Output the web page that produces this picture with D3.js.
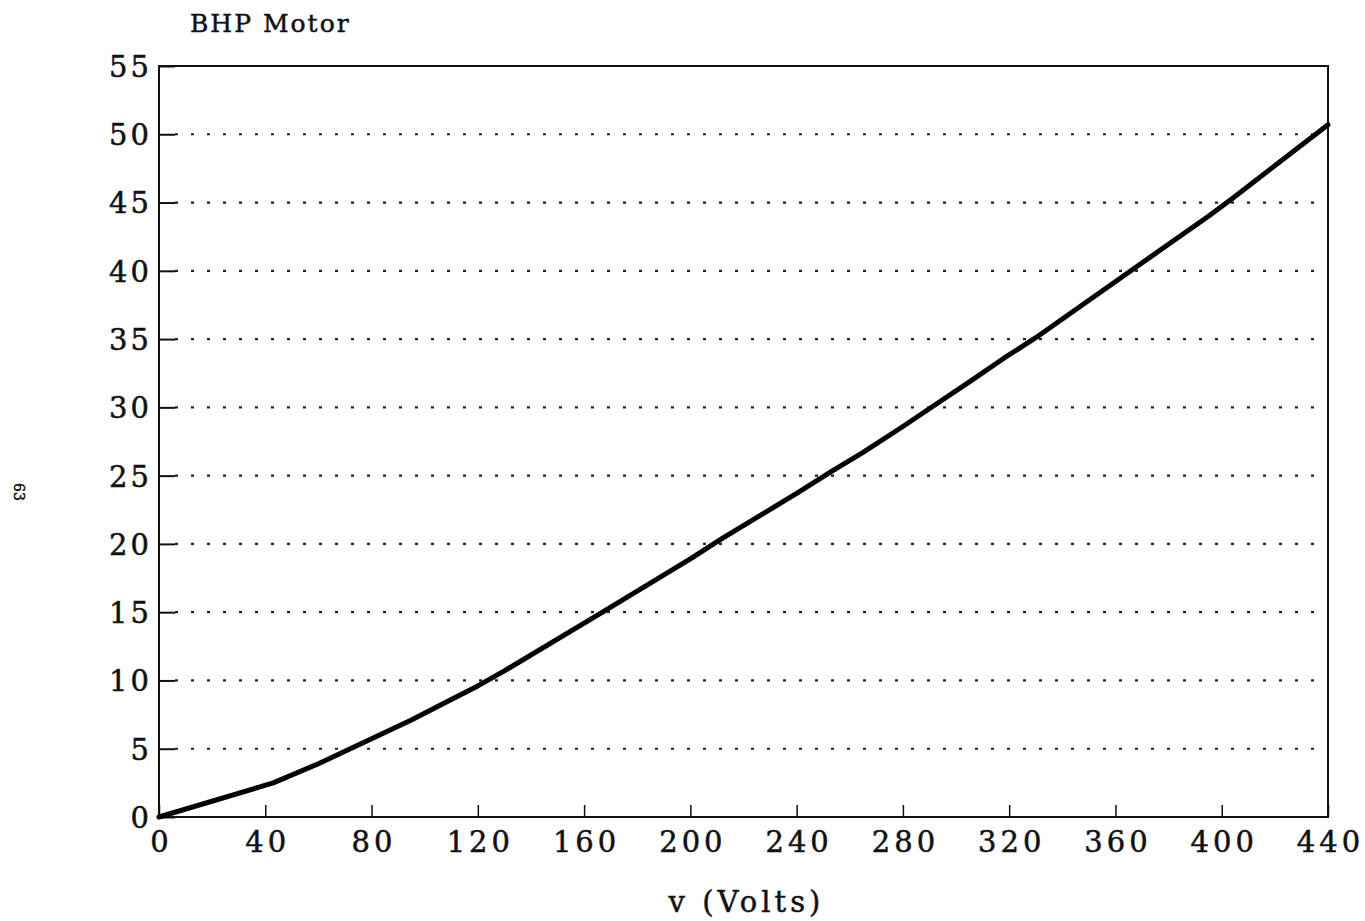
<!DOCTYPE html>
<html>
<head>
<meta charset="utf-8">
<script src="https://cdn.jsdelivr.net/npm/d3@7"></script>
<style>
  html, body { margin: 0; padding: 0; background: #fff; }
  svg { display: block; }
  text { font-family: "DejaVu Serif", "Liberation Serif", serif; fill: #111; stroke: #111; stroke-width: 0.5px; }
</style>
</head>
<body>
<svg id="chart" width="1365" height="921"></svg>
<script>
// Motor brake horsepower against supply voltage
const volts = [0, 43, 60, 83, 95, 110, 120, 130, 166, 200, 212, 240, 253, 265, 280, 293, 306, 318, 330, 365, 395, 404, 440];
const bhp   = [0, 2.5, 3.9, 6.0, 7.1, 8.6, 9.6, 10.7, 14.9, 18.9, 20.4, 23.7, 25.3, 26.7, 28.6, 30.3, 32.0, 33.6, 35.1, 39.9, 44.0, 45.3, 50.7];

const xTicks = [0, 40, 80, 120, 160, 200, 240, 280, 320, 360, 400, 440];
const yTicks = [0, 5, 10, 15, 20, 25, 30, 35, 40, 45, 50, 55];

const titleText = "BHP Motor";
const xLabel = "v (Volts)";
const pageNumber = "63";

const svg = d3.select("#chart");
const plotLeft = 159, plotRight = 1328, plotTop = 66, plotBottom = 817;

const x = d3.scaleLinear().domain([0, 440]).range([plotLeft, plotRight]);
const y = d3.scaleLinear().domain([0, 55]).range([plotBottom, plotTop]);

// dotted horizontal grid
svg.append("g")
  .selectAll("line")
  .data(yTicks.filter(d => d > 0 && d < 55))
  .join("line")
  .attr("x1", plotLeft + 16).attr("x2", plotRight)
  .attr("y1", d => y(d)).attr("y2", d => y(d))
  .attr("stroke", "#222")
  .attr("stroke-width", 2.2)
  .attr("stroke-dasharray", "3,13");

// left axis with short inward ticks
const yAxis = d3.axisLeft(y).tickValues(yTicks).tickSize(-16).tickPadding(10).tickFormat(d3.format("d"));
const gy = svg.append("g").attr("transform", `translate(${plotLeft},0)`).call(yAxis);
gy.select(".domain").remove();
gy.selectAll(".tick line").attr("stroke", "#111").attr("stroke-width", 2);
gy.selectAll(".tick text")
  .attr("font-size", 29)
  .attr("letter-spacing", 3)
  .attr("x", -7)
  .attr("dy", "0.36em");

// bottom axis with short inward ticks
const xAxis = d3.axisBottom(x).tickValues(xTicks).tickSize(-12).tickPadding(14).tickFormat(d3.format("d"));
const gx = svg.append("g").attr("transform", `translate(0,${plotBottom})`).call(xAxis);
gx.select(".domain").remove();
gx.selectAll(".tick line").attr("stroke", "#111").attr("stroke-width", 1.5);
gx.selectAll(".tick text")
  .attr("font-size", 29)
  .attr("letter-spacing", 4)
  .attr("dx", 2)
  .attr("dy", "0.71em");

// frame
svg.append("rect")
  .attr("x", plotLeft).attr("y", plotTop)
  .attr("width", plotRight - plotLeft).attr("height", plotBottom - plotTop)
  .attr("fill", "none")
  .attr("stroke", "#111")
  .attr("stroke-width", 2);

// curve
const line = d3.line().x((d, i) => x(volts[i])).y(d => y(d));
svg.append("path")
  .datum(bhp)
  .attr("d", line)
  .attr("fill", "none")
  .attr("stroke", "#000")
  .attr("stroke-width", 5)
  .attr("stroke-linejoin", "round")
  .attr("stroke-linecap", "round");

// titles
svg.append("text")
  .attr("x", 190).attr("y", 32)
  .attr("font-size", 25)
  .attr("letter-spacing", 2)
  .text(titleText);

svg.append("text")
  .attr("x", (plotLeft + plotRight) / 2 + 3).attr("y", 912)
  .attr("text-anchor", "middle")
  .attr("font-size", 29)
  .attr("letter-spacing", 4)
  .text(xLabel);

// page number printed sideways in the margin
svg.append("text")
  .attr("transform", "translate(14,492) rotate(90)")
  .attr("text-anchor", "middle")
  .attr("font-size", 14)
  .attr("stroke-width", 0)
  .text(pageNumber);
</script>
</body>
</html>
